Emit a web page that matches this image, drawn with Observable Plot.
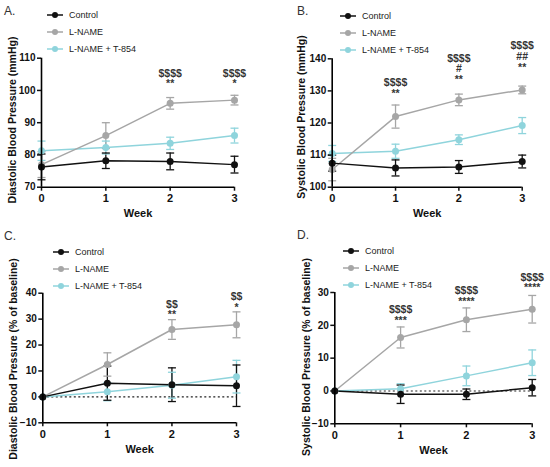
<!DOCTYPE html>
<html><head><meta charset="utf-8">
<script src="https://cdn.jsdelivr.net/npm/d3@7"></script>
<script src="https://cdn.jsdelivr.net/npm/@observablehq/plot@0.6"></script>
<style>
body{margin:0;background:#fff;font-family:"Liberation Sans",Arial,sans-serif;}
#root{position:relative;width:550px;height:467px;overflow:hidden;background:#fff;}
.panel{position:absolute;}
.panel svg{position:absolute;left:0;top:0;overflow:visible;}
.letter{position:absolute;font-size:12px;color:#333;line-height:12px;}
.legend{position:absolute;font-size:9px;color:#222;}
.legend .row{display:flex;align-items:center;height:17px;}
.legend svg{position:static;margin-right:6px;}
.ylab{position:absolute;font-size:10.5px;font-weight:bold;color:#111;white-space:nowrap;transform:translate(-50%,-50%) rotate(-90deg);line-height:11px;}
</style></head><body><div id="root"></div><script>
const weeks = [0, 1, 2, 3];
const seriesNames = ["Control", "L-NAME", "L-NAME + T-854"];
const seriesColors = ["#111111", "#a6a6a6", "#8fd4dc"];

// A. Diastolic (mmHg)
const aControl = [76.3, 78.2, 78.0, 77.0];
const aControlErr = [4.0, 2.4, 2.6, 2.6];
const aLname = [77.0, 86.0, 96.0, 97.0];
const aLnameErr = [4.0, 4.0, 1.8, 1.5];
const aT854 = [81.3, 82.3, 83.6, 86.0];
const aT854Err = [3.0, 2.0, 1.9, 2.3];
const aTicks = [70, 80, 90, 100, 110];
const aAnnotWeeks = [2, 3];
const aAnnotText = ["$$$$\n**", "$$$$\n*"];
const aAnnotY = [100, 100];

// B. Systolic (mmHg)
const bControl = [107.5, 106.0, 106.3, 108.0];
const bControlErr = [2.5, 2.5, 2.0, 2.0];
const bLname = [105.5, 122.0, 127.2, 130.3];
const bLnameErr = [3.5, 3.6, 1.8, 1.2];
const bT854 = [110.5, 111.2, 114.8, 119.2];
const bT854Err = [2.5, 2.2, 1.5, 2.5];
const bTicks = [100, 110, 120, 130, 140];
const bAnnotWeeks = [1, 2, 3];
const bAnnotText = ["$$$$\n**", "$$$$\n#\n**", "$$$$\n##\n**"];
const bAnnotY = [127.3, 131.5, 135.3];

// C. Diastolic (% of baseline)
const cControl = [0, 5.3, 4.7, 4.3];
const cControlErr = [0, 6.6, 6.5, 8.0];
const cLname = [0, 12.5, 26.0, 27.8];
const cLnameErr = [0, 4.5, 3.8, 5.0];
const cT854 = [0, 2.0, 4.5, 7.8];
const cT854Err = [0, 3.5, 5.0, 6.3];
const cTicks = [-10, 0, 10, 20, 30, 40];
const cAnnotWeeks = [2, 3];
const cAnnotText = ["$$\n**", "$$\n*"];
const cAnnotY = [29.1, 32];

// D. Systolic (% of baseline)
const dControl = [0, -1.0, -1.0, 1.0];
const dControlErr = [0, 2.8, 1.6, 2.5];
const dLname = [0, 16.3, 21.7, 24.9];
const dLnameErr = [0, 3.2, 3.6, 4.2];
const dT854 = [0, 0.7, 4.6, 8.6];
const dT854Err = [0, 1.5, 3.0, 3.9];
const dTicks = [-10, 0, 10, 20, 30];
const dAnnotWeeks = [1, 2, 3];
const dAnnotText = ["$$$$\n***", "$$$$\n****", "$$$$\n****"];
const dAnnotY = [19.5, 25.3, 29.4];

const cap = {draw(ctx, size) { const w = Math.sqrt(size / Math.PI); ctx.moveTo(-w, 0); ctx.lineTo(w, 0); }};

function makeRows(means, errs) {
  const rows = [];
  for (let i = means.length - 1; i >= 0; i--) {
    weeks.forEach((w, j) => rows.push({
      week: w, series: seriesNames[i], v: means[i][j],
      lo: means[i][j] - errs[i][j], hi: means[i][j] + errs[i][j], e: errs[i][j]
    }));
  }
  return rows;
}

const panels = [
  {letter: "A.", left: 0, top: 0, h: 230, ml: 41, mr: 41, mt: 57.7, mb: 43.3,
   means: [aControl, aLname, aT854], errs: [aControlErr, aLnameErr, aT854Err],
   ticks: aTicks, label: "Diastolic Blood Pressure (mmHg)", zero: false,
   annot: [aAnnotWeeks, aAnnotText, aAnnotY],
   letterPos: [4, 5], legendPos: [47, 6.5], labelPos: [12, 120]},
  {letter: "B.", left: 275, top: 0, h: 230, ml: 56.7, mr: 28.3, mt: 58.3, mb: 43.3,
   means: [bControl, bLname, bT854], errs: [bControlErr, bLnameErr, bT854Err],
   ticks: bTicks, label: "Systolic Blood Pressure (mmHg)", zero: false,
   annot: [bAnnotWeeks, bAnnotText, bAnnotY],
   letterPos: [22, 5], legendPos: [65, 7.5], labelPos: [25.5, 117]},
  {letter: "C.", left: 0, top: 230, h: 237, ml: 42.3, mr: 39, mt: 62.7, mb: 44.7,
   means: [cControl, cLname, cT854], errs: [cControlErr, cLnameErr, cT854Err],
   ticks: cTicks, label: "Diastolic Blood Pressure (% of baseline)", zero: true,
   annot: [cAnnotWeeks, cAnnotText, cAnnotY],
   letterPos: [4, 0], legendPos: [53, 13], labelPos: [13, 129]},
  {letter: "D.", left: 275, top: 230, h: 237, ml: 59.3, mr: 18.3, mt: 62, mb: 43.7,
   means: [dControl, dLname, dT854], errs: [dControlErr, dLnameErr, dT854Err],
   ticks: dTicks, label: "Systolic Blood Pressure (% of baseline)", zero: true,
   annot: [dAnnotWeeks, dAnnotText, dAnnotY],
   letterPos: [22, -1], legendPos: [68, 12.5], labelPos: [30.5, 127]}
];

const root = document.getElementById("root");

for (const p of panels) {
  const div = document.createElement("div");
  div.className = "panel";
  div.style.left = p.left + "px"; div.style.top = p.top + "px";
  div.style.width = "275px"; div.style.height = p.h + "px";
  const rows = makeRows(p.means, p.errs);
  const errRows = rows.filter(d => d.e > 0);
  const annot = p.annot[0].map((w, i) => ({week: w, text: p.annot[1][i], y: p.annot[2][i]}));
  const yDomain = [p.ticks[0], p.ticks[p.ticks.length - 1]];
  const chart = Plot.plot({
    width: 275, height: p.h,
    marginLeft: p.ml, marginRight: p.mr, marginTop: p.mt, marginBottom: p.mb,
    x: {domain: [0, 3]},
    y: {domain: yDomain},
    color: {domain: seriesNames, range: seriesColors},
    style: {fontFamily: "Liberation Sans, Arial, sans-serif", fontSize: "10px", fontWeight: "bold", color: "#111", background: "transparent", overflow: "visible"},
    marks: [
      p.zero ? Plot.ruleY([0], {stroke: "#222", strokeWidth: 1.2, strokeDasharray: "2,2.5"}) : null,
      Plot.ruleX(errRows, {x: "week", y1: "lo", y2: "hi", stroke: "series", strokeWidth: 1.3}),
      Plot.dot(errRows, {x: "week", y: "lo", symbol: cap, r: 4, stroke: "series", strokeWidth: 1.3}),
      Plot.dot(errRows, {x: "week", y: "hi", symbol: cap, r: 4, stroke: "series", strokeWidth: 1.3}),
      Plot.line(rows, {x: "week", y: "v", stroke: "series", z: "series", strokeWidth: 1.5}),
      Plot.dot(rows, {x: "week", y: "v", fill: "series", r: 3.5}),
      Plot.axisY({ticks: p.ticks, tickSize: 4, tickPadding: 2, strokeWidth: 1.5, label: null}),
      Plot.axisX({ticks: weeks, tickSize: 4, tickPadding: 3, strokeWidth: 1.5, tickFormat: d3.format("d"), label: "Week", labelAnchor: "center", labelArrow: "none", labelOffset: 30, fontSize: 11}),
      Plot.ruleX([0], {stroke: "#000", strokeWidth: 1.6}),
      Plot.ruleY([yDomain[0]], {stroke: "#000", strokeWidth: 1.6}),
      Plot.text(annot, {x: "week", y: "y", text: "text", lineAnchor: "bottom", lineHeight: 1.02, dy: -3, fontSize: 10.5, fontWeight: "bold", fill: "#333", opacity: 0.99})
    ]
  });
  div.appendChild(chart);

  const ylab = document.createElement("div");
  ylab.className = "ylab";
  ylab.textContent = p.label;
  ylab.style.left = p.labelPos[0] + "px"; ylab.style.top = p.labelPos[1] + "px";
  div.appendChild(ylab);

  const letter = document.createElement("div");
  letter.className = "letter";
  letter.textContent = p.letter;
  letter.style.left = p.letterPos[0] + "px"; letter.style.top = p.letterPos[1] + "px";
  div.appendChild(letter);

  const legend = document.createElement("div");
  legend.className = "legend";
  legend.style.left = p.legendPos[0] + "px"; legend.style.top = p.legendPos[1] + "px";
  seriesNames.forEach((name, i) => {
    const row = document.createElement("div");
    row.className = "row";
    row.innerHTML = `<svg width="16" height="8"><line x1="0" x2="16" y1="4" y2="4" stroke="${seriesColors[i]}" stroke-width="1.5"/><circle cx="8" cy="4" r="3" fill="${seriesColors[i]}"/></svg><span>${name}</span>`;
    legend.appendChild(row);
  });
  div.appendChild(legend);
  root.appendChild(div);
}
</script></body></html>
